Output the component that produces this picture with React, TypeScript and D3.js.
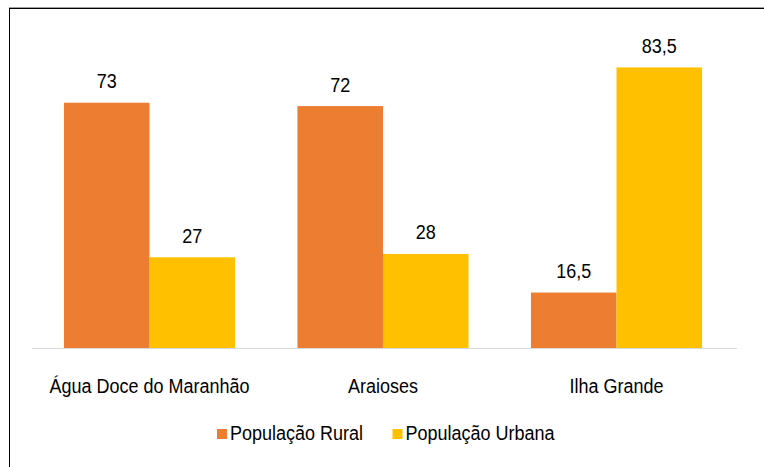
import React from "react";
import * as d3 from "d3";

const categories = ["Água Doce do Maranhão", "Araioses", "Ilha Grande"];
const seriesNames = ["População Rural", "População Urbana"];
const rural = [73, 72, 16.5];
const urbana = [27, 28, 83.5];
const colors = ["#ED7D31", "#FFC000"];

const W = 764;
const H = 467;

function Label(props: { x: number; y: number; anchor?: string; children: React.ReactNode }) {
  return (
    <g transform={`translate(${props.x},${props.y}) scale(1,1.1)`}>
      <text x={0} y={0} textAnchor={props.anchor || "middle"} fontSize={18} fill="#000">
        {props.children}
      </text>
    </g>
  );
}

export default function App() {
  const x = d3.scaleBand<string>().domain(categories).range([32.75, 733.25]).paddingInner(0).paddingOuter(0);
  const xSub = d3.scaleBand<string>().domain(seriesNames).range([0, x.bandwidth()]).paddingInner(0).paddingOuter(0.365);
  const y = d3.scaleLinear().domain([0, 90]).range([348, 45.6]);
  const values = [rural, urbana];
  const fmt = (v: number) => String(v).replace(".", ",");
  const font = "'Liberation Sans', Arial, sans-serif";

  return (
    <svg width={W} height={H} style={{ position: "absolute", left: 0, top: 0, background: "#fff" }} fontFamily={font}>
      <rect x={0} y={0} width={W} height={H} fill="#fff" />
      <line x1={9} x2={W} y1={7.5} y2={7.5} stroke="#a0a0a0" strokeWidth={1} />
      <line x1={9} x2={W} y1={8.5} y2={8.5} stroke="#000" strokeWidth={1} />
      <line x1={9.5} x2={9.5} y1={8} y2={H} stroke="#000" strokeWidth={1} />
      {categories.map((c, i) => (
        <g key={c} transform={`translate(${x(c)},0)`}>
          {seriesNames.map((s, j) => {
            const v = values[j][i];
            const bx = xSub(s)!;
            return (
              <g key={s}>
                <rect x={bx} y={y(v)} width={xSub.bandwidth()} height={y(0) - y(v)} fill={colors[j]} />
                <Label x={bx + xSub.bandwidth() / 2} y={y(v) - 14.5}>
                  {fmt(v)}
                </Label>
              </g>
            );
          })}
          <Label x={x.bandwidth() / 2} y={393}>
            {c}
          </Label>
        </g>
      ))}
      <line x1={32} x2={737} y1={y(0) + 0.5} y2={y(0) + 0.5} stroke="#d9d9d9" strokeWidth={1} />
      {seriesNames.map((s, j) => {
        const lx = j === 0 ? 217 : 392.5;
        return (
          <g key={s}>
            <rect x={lx} y={429} width={10} height={10} fill={colors[j]} />
            <Label x={lx + 13} y={440} anchor="start">
              {s}
            </Label>
          </g>
        );
      })}
    </svg>
  );
}
